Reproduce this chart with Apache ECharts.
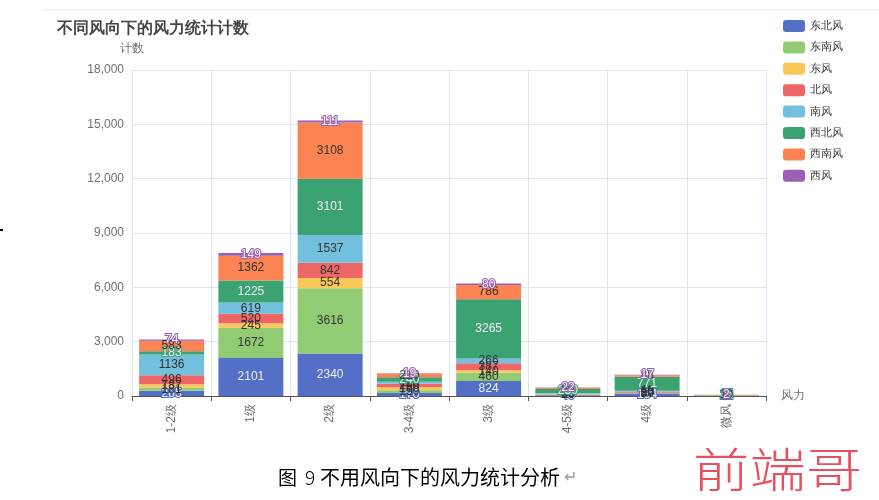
<!DOCTYPE html>
<html>
<head>
<meta charset="utf-8">
<script src="https://cdn.jsdelivr.net/npm/echarts@6/dist/echarts.min.js"></script>
<style>html,body{margin:0;padding:0;background:#fff;}#c{width:879px;height:500px;}</style>
</head>
<body>
<div id="c"></div>
<script>
var categories = ['1-2级','1级','2级','3-4级','3级','4-5级','4级','微风'];
var seriesNames = ['东北风','东南风','东风','北风','南风','西北风','西南风','西风'];
var dongbei = [285, 2101, 2340, 170, 824, 40, 134, 12];
var dongnan = [181, 1672, 3616, 150, 460, 30, 30, 8];
var dong    = [187, 245, 554, 160, 140, 20, 20, 5];
var bei     = [496, 520, 842, 200, 387, 40, 68, 10];
var nan     = [1136, 619, 1537, 110, 266, 30, 40, 7];
var xibei   = [183, 1225, 3101, 240, 3265, 230, 771, 15];
var xinan   = [583, 1362, 3108, 210, 786, 60, 88, 10];
var xi      = [74, 149, 111, 19, 80, 22, 17, 2];
var yTicks = [0, 3000, 6000, 9000, 12000, 15000, 18000];

var allData = [dongbei, dongnan, dong, bei, nan, xibei, xinan, xi];
var colors = ['#5470c6','#91cc75','#fac858','#ee6666','#73c0de','#3ba272','#fc8452','#9a60b4'];

var chart = echarts.init(document.getElementById('c'));
var series = seriesNames.map(function(name, i){
  return {
    name: name,
    type: 'bar',
    stack: 'total',
    barCategoryGap: '18%',
    label: { show: true, fontSize: 12 },
    itemStyle: { color: colors[i] },
    data: allData[i]
  };
});

chart.setOption({
  animation: false,
  color: colors,
  title: {
    text: '不同风向下的风力统计计数',
    left: 52, top: 16,
    textStyle: { fontSize: 16, fontWeight: 'bold', color: '#464646' }
  },
  legend: {
    orient: 'vertical',
    left: 778, top: 15,
    itemWidth: 22, itemHeight: 12, itemGap: 9.4,
    textStyle: { fontSize: 11, color: '#333' },
    data: seriesNames
  },
  grid: { left: 132, right: 113, top: 70, bottom: 104, containLabel: false },
  xAxis: {
    type: 'category',
    data: categories,
    name: '风力',
    nameTextStyle: { color: '#6e7079', fontSize: 12 },
    axisLabel: { rotate: 90, fontSize: 12, color: '#6e7079' },
    axisTick: { show: true },
    splitLine: { show: true, lineStyle: { color: '#e0e6f1' } }
  },
  yAxis: {
    type: 'value',
    name: '计数',
    min: yTicks[0], max: yTicks[yTicks.length-1], interval: 3000,
    nameTextStyle: { color: '#6e7079', fontSize: 12 },
    axisLabel: { fontSize: 12, color: '#6e7079' },
    splitLine: { lineStyle: { color: '#e0e6f1' } }
  },
  graphic: [
    { type: 'line', shape: { x1: 45, y1: 10, x2: 879, y2: 10 }, style: { stroke: '#e6e6e6', lineWidth: 1 } },
    { type: 'line', shape: { x1: 0, y1: 230, x2: 3, y2: 230 }, style: { stroke: '#000', lineWidth: 2 } },
    { type: 'text', left: 278, top: 468, style: { text: '图', fontSize: 19, fill: '#000', fontFamily: 'Noto Sans CJK SC' } },
    { type: 'text', left: 305, top: 468, style: { text: '9', fontSize: 19, fill: '#000', fontFamily: 'Noto Sans CJK SC', fontWeight: 300 } },
    { type: 'text', left: 320, top: 467, style: { text: '不用风向下的风力统计分析', fontSize: 20, fill: '#000', fontFamily: 'Noto Sans CJK SC' } },
    { type: 'text', left: 564, top: 470, style: { text: '↵', fontSize: 16, fill: '#999' } },
    { type: 'text', x: 693, y: 446, scaleX: 1.2, style: { text: '前端哥', fontSize: 47, fill: '#e8505f', fontFamily: 'Noto Sans CJK SC', fontWeight: 300 } }
  ],
  series: series
});
</script>
</body>
</html>
